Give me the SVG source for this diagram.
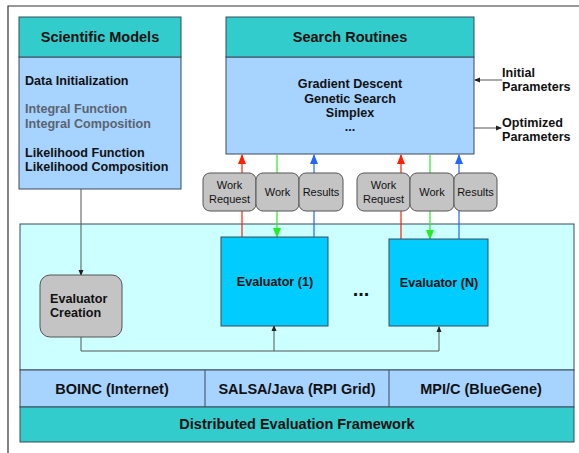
<svg xmlns="http://www.w3.org/2000/svg" width="579" height="453" viewBox="0 0 579 453">
<style>
.hdr{fill:#33CCCC;stroke:#3a4a5a;stroke-width:1}
.body{fill:#A6D3FF;stroke:#3a4a5a;stroke-width:1}
.eval{fill:#00CCFF;stroke:#3a4a5a;stroke-width:1}
.gray{fill:#C4C4C4;stroke:#555;stroke-width:1}
.b{font-family:"Liberation Sans",Arial,sans-serif;font-weight:bold;fill:#111}
.n{font-family:"Liberation Sans",Arial,sans-serif;fill:#111;font-size:11px}
.t{font-size:14.5px}
.s{font-size:12.6px}
.c{text-anchor:middle}
.ln{fill:none;stroke:#555;stroke-width:1}
</style>
<defs>
<marker id="ak" markerWidth="6" markerHeight="6" refX="5" refY="3" orient="auto" markerUnits="userSpaceOnUse"><path d="M0,0.5 L6,3 L0,5.5 z" fill="#222"/></marker>
<marker id="ar" markerWidth="10" markerHeight="10" refX="9" refY="5" orient="auto" markerUnits="userSpaceOnUse"><path d="M0,1 L10,5 L0,9 z" fill="#FF2000"/></marker>
<marker id="ag" markerWidth="10" markerHeight="10" refX="9" refY="5" orient="auto" markerUnits="userSpaceOnUse"><path d="M0,1 L10,5 L0,9 z" fill="#22EE22"/></marker>
<marker id="ab" markerWidth="10" markerHeight="10" refX="9" refY="5" orient="auto" markerUnits="userSpaceOnUse"><path d="M0,1 L10,5 L0,9 z" fill="#2266FF"/></marker>
</defs>
<rect width="579" height="453" fill="#fff"/>
<path d="M8,453 V6 H579" fill="none" stroke="#333" stroke-width="1.2"/>

<g id="framework">
<rect x="20" y="224" width="554" height="146" fill="#CCFFFF" stroke="#3a4a5a"/>
<rect x="20" y="370" width="554" height="37" class="body"/>
<line x1="205" y1="370" x2="205" y2="407" stroke="#3a4a5a"/>
<line x1="389" y1="370" x2="389" y2="407" stroke="#3a4a5a"/>
<text x="112" y="394" class="b t c">BOINC (Internet)</text>
<text x="297" y="394" class="b t c">SALSA/Java (RPI Grid)</text>
<text x="481" y="394" class="b t c">MPI/C (BlueGene)</text>
<rect x="20" y="407" width="554" height="35" class="hdr"/>
<text x="297" y="429" class="b t c">Distributed Evaluation Framework</text>
</g>

<g id="connectors">
<line x1="242" y1="237" x2="242" y2="155" stroke="#FF2000" stroke-width="1.2" marker-end="url(#ar)"/>
<line x1="277" y1="155" x2="277" y2="237" stroke="#22EE22" stroke-width="1.2" marker-end="url(#ag)"/>
<line x1="314" y1="237" x2="314" y2="155" stroke="#2266FF" stroke-width="1.2" marker-end="url(#ab)"/>
<line x1="401" y1="239" x2="401" y2="155" stroke="#FF2000" stroke-width="1.2" marker-end="url(#ar)"/>
<line x1="430" y1="155" x2="430" y2="239" stroke="#22EE22" stroke-width="1.2" marker-end="url(#ag)"/>
<line x1="459" y1="239" x2="459" y2="155" stroke="#2266FF" stroke-width="1.2" marker-end="url(#ab)"/>
<line x1="81" y1="189" x2="81" y2="275" class="ln" marker-end="url(#ak)"/>
<path d="M81,337 V351 H439 V327" class="ln" marker-end="url(#ak)"/>
<line x1="274" y1="351" x2="274" y2="326" class="ln" marker-end="url(#ak)"/>
<line x1="502" y1="80" x2="475" y2="80" class="ln" marker-end="url(#ak)"/>
<line x1="474" y1="128" x2="501" y2="128" class="ln" marker-end="url(#ak)"/>
</g>

<g id="scientific-models">
<rect x="19" y="57" width="162" height="132" class="body"/>
<rect x="19" y="17" width="162" height="40" class="hdr"/>
<text x="100" y="42" class="b t c">Scientific Models</text>
<text x="25" y="85" class="b s">Data Initialization</text>
<text x="25" y="113" class="b s" style="fill:#5a6470">Integral Function</text>
<text x="25" y="128" class="b s" style="fill:#5a6470">Integral Composition</text>
<text x="25" y="157" class="b s">Likelihood Function</text>
<text x="25" y="171" class="b s">Likelihood Composition</text>
</g>

<g id="search-routines">
<rect x="226" y="57" width="248" height="97" class="body"/>
<rect x="226" y="17" width="248" height="40" class="hdr"/>
<text x="350" y="42" class="b t c">Search Routines</text>
<text x="350" y="88" class="b s c">Gradient Descent</text>
<text x="350" y="103" class="b s c">Genetic Search</text>
<text x="350" y="117" class="b s c">Simplex</text>
<text x="350" y="131" class="b s c">...</text>
</g>

<g id="initial-parameters">
<text x="502" y="77" class="b s">Initial</text>
<text x="502" y="91" class="b s">Parameters</text>
</g>
<g id="optimized-parameters">
<text x="502" y="127" class="b s">Optimized</text>
<text x="502" y="141" class="b s">Parameters</text>
</g>

<g id="work-request-1"><rect x="203" y="173" width="53" height="38" rx="7" class="gray"/><text x="229.5" y="189" class="n c">Work</text><text x="229.5" y="203" class="n c">Request</text></g>
<g id="work-1"><rect x="256" y="173" width="43" height="38" rx="7" class="gray"/><text x="277.5" y="196" class="n c">Work</text></g>
<g id="results-1"><rect x="299" y="173" width="44" height="38" rx="7" class="gray"/><text x="321" y="196" class="n c">Results</text></g>
<g id="work-request-n"><rect x="357" y="173" width="53" height="38" rx="7" class="gray"/><text x="383.5" y="189" class="n c">Work</text><text x="383.5" y="203" class="n c">Request</text></g>
<g id="work-n"><rect x="410" y="173" width="44" height="38" rx="7" class="gray"/><text x="432" y="196" class="n c">Work</text></g>
<g id="results-n"><rect x="454" y="173" width="43" height="38" rx="7" class="gray"/><text x="475.5" y="196" class="n c">Results</text></g>

<g id="evaluator-1"><rect x="221" y="237" width="107" height="89" class="eval"/><text x="275" y="286" class="b s c">Evaluator (1)</text></g>
<g id="ellipsis"><text x="361" y="296" class="b c" style="font-size:20px">...</text></g>
<g id="evaluator-n"><rect x="389" y="239" width="99" height="87" class="eval"/><text x="439" y="287" class="b s c">Evaluator (N)</text></g>
<g id="evaluator-creation"><rect x="40" y="275" width="82" height="62" rx="10" class="gray"/><text x="50" y="303" class="b s">Evaluator</text><text x="50" y="317" class="b s">Creation</text></g>
</svg>
